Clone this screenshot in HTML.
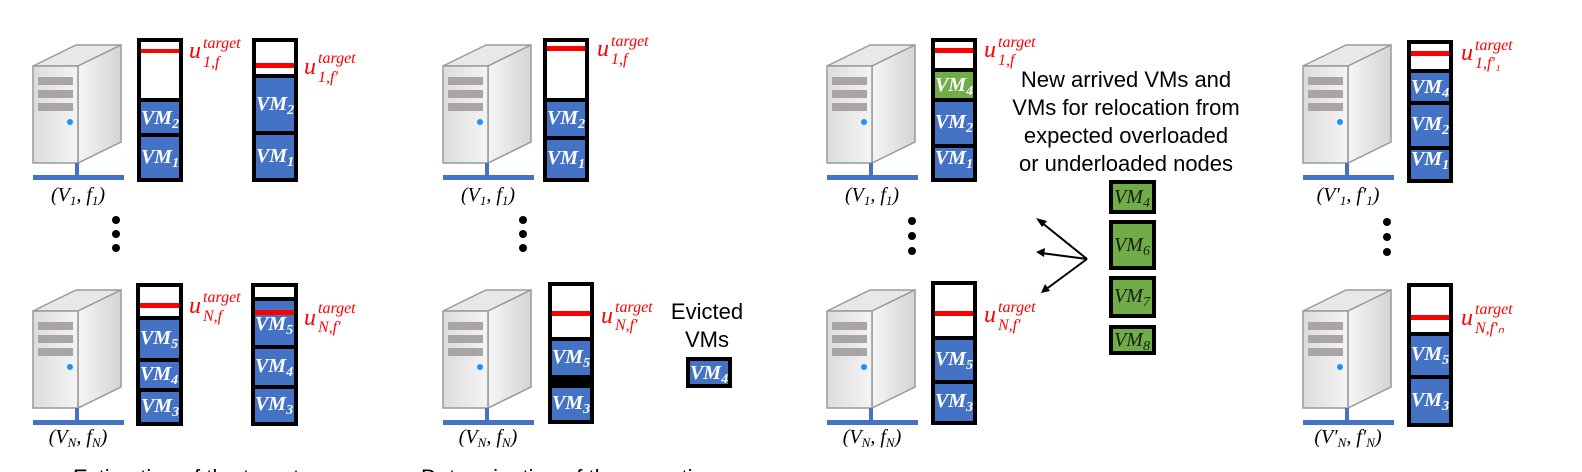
<!DOCTYPE html>
<html><head><meta charset="utf-8"><style>
html,body{margin:0;padding:0;background:#fff;width:1582px;height:472px;overflow:hidden}
svg{display:block}
.vm{font-family:"Liberation Serif",serif;font-style:italic;font-weight:bold;fill:#fff;font-size:20px}
.vmg{font-family:"Liberation Serif",serif;font-style:italic;fill:#1a1a1a;font-size:20px}
.u{font-family:"Liberation Serif",serif;font-style:italic;fill:#f00;font-size:24px}
.lab{font-family:"Liberation Serif",serif;font-style:italic;fill:#000;font-size:20px}
.t{font-family:"Liberation Sans",sans-serif;fill:#000;font-size:22px}
</style></head><body>
<svg width="1582" height="472" viewBox="0 0 1582 472" xmlns="http://www.w3.org/2000/svg">
<defs>
<linearGradient id="gf" x1="0" x2="1"><stop offset="0" stop-color="#dcdcdc"/><stop offset="1" stop-color="#f4f4f4"/></linearGradient>
<linearGradient id="gs" x1="0" x2="1"><stop offset="0" stop-color="#f6f6f6"/><stop offset="1" stop-color="#d4d4d4"/></linearGradient>
<g id="srv">
<polygon points="0,21 45,21 88,0 43,0" fill="#e8e8e8" stroke="#9a9a9a" stroke-width="1.5"/>
<polygon points="45,21 88,0 88,97 45,118" fill="url(#gs)" stroke="#9a9a9a" stroke-width="1.5"/>
<rect x="0" y="21" width="45" height="97" fill="url(#gf)" stroke="#9a9a9a" stroke-width="1.5"/>
<rect x="5" y="32" width="35" height="8" fill="#aaa5a5"/>
<rect x="5" y="45" width="35" height="8" fill="#aaa5a5"/>
<rect x="5" y="58" width="35" height="8" fill="#aaa5a5"/>
<circle cx="37" cy="77" r="3" fill="#1e90ff"/>
<rect x="42" y="118" width="4" height="13" fill="#4472c4"/>
<rect x="0" y="130" width="91" height="5" fill="#4472c4"/>
</g>
</defs>

<use href="#srv" x="33" y="45"/><use href="#srv" x="33" y="290"/>
<use href="#srv" x="443" y="45"/><use href="#srv" x="443" y="290"/>
<use href="#srv" x="827" y="45"/><use href="#srv" x="827" y="290"/>
<use href="#srv" x="1303" y="45"/><use href="#srv" x="1303" y="290"/>

<g class="lab" text-anchor="middle">
<text x="78" y="201">(V<tspan font-size="13" dy="4">1</tspan><tspan dy="-4">, f</tspan><tspan font-size="13" dy="4">1</tspan><tspan dy="-4">)</tspan></text>
<text x="78" y="443">(V<tspan font-size="13" dy="4">N</tspan><tspan dy="-4">, f</tspan><tspan font-size="13" dy="4">N</tspan><tspan dy="-4">)</tspan></text>
<text x="488" y="201">(V<tspan font-size="13" dy="4">1</tspan><tspan dy="-4">, f</tspan><tspan font-size="13" dy="4">1</tspan><tspan dy="-4">)</tspan></text>
<text x="488" y="443">(V<tspan font-size="13" dy="4">N</tspan><tspan dy="-4">, f</tspan><tspan font-size="13" dy="4">N</tspan><tspan dy="-4">)</tspan></text>
<text x="872" y="201">(V<tspan font-size="13" dy="4">1</tspan><tspan dy="-4">, f</tspan><tspan font-size="13" dy="4">1</tspan><tspan dy="-4">)</tspan></text>
<text x="872" y="443">(V<tspan font-size="13" dy="4">N</tspan><tspan dy="-4">, f</tspan><tspan font-size="13" dy="4">N</tspan><tspan dy="-4">)</tspan></text>
<text x="1348" y="201">(V′<tspan font-size="13" dy="4">1</tspan><tspan dy="-4">, f′</tspan><tspan font-size="13" dy="4">1</tspan><tspan dy="-4">)</tspan></text>
<text x="1348" y="443">(V′<tspan font-size="13" dy="4">N</tspan><tspan dy="-4">, f′</tspan><tspan font-size="13" dy="4">N</tspan><tspan dy="-4">)</tspan></text>
</g>

<g fill="#000">
<circle cx="116" cy="220" r="4"/><circle cx="116" cy="234" r="4"/><circle cx="116" cy="248" r="4"/>
<circle cx="523" cy="220" r="4"/><circle cx="523" cy="234" r="4"/><circle cx="523" cy="248" r="4"/>
<circle cx="912" cy="221" r="4"/><circle cx="912" cy="236" r="4"/><circle cx="912" cy="251" r="4"/>
<circle cx="1387" cy="222" r="4"/><circle cx="1387" cy="237" r="4"/><circle cx="1387" cy="252" r="4"/>
</g>

<g fill="#000">
<rect x="137" y="38" width="46" height="144"/>
<rect x="252" y="38" width="46" height="144"/>
<rect x="136" y="283" width="47" height="143"/>
<rect x="251" y="283" width="47" height="143"/>
<rect x="543" y="38" width="46" height="144"/>
<rect x="548" y="282" width="46" height="142"/>
<rect x="686" y="357" width="46" height="31"/>
<rect x="931" y="38" width="46" height="144"/>
<rect x="931" y="281" width="46" height="144"/>
<rect x="1407" y="40" width="46" height="143"/>
<rect x="1407" y="283" width="46" height="144"/>
<rect x="1109" y="180" width="47" height="34"/>
<rect x="1109" y="220" width="47" height="50"/>
<rect x="1109" y="276" width="47" height="42"/>
<rect x="1109" y="325" width="47" height="30"/>
</g>
<g fill="#fff">
<rect x="141" y="42" width="38" height="56"/>
<rect x="256" y="42" width="38" height="32"/>
<rect x="140" y="287" width="39" height="29"/>
<rect x="255" y="287" width="39" height="10"/>
<rect x="547" y="42" width="38" height="56"/>
<rect x="552" y="286" width="38" height="51"/>
<rect x="935" y="42" width="38" height="26"/>
<rect x="935" y="285" width="38" height="51"/>
<rect x="1411" y="44" width="38" height="25"/>
<rect x="1411" y="287" width="38" height="45"/>
</g>
<g fill="#4472c4">
<rect x="141" y="102" width="38" height="31"/><rect x="141" y="137" width="38" height="41"/>
<rect x="256" y="78" width="38" height="53"/><rect x="256" y="135" width="38" height="43"/>
<rect x="140" y="320" width="39" height="38"/><rect x="140" y="362" width="39" height="26"/><rect x="141" y="392" width="38" height="30"/>
<rect x="255" y="301" width="39" height="44"/><rect x="255" y="349" width="39" height="36"/><rect x="255" y="389" width="39" height="33"/>
<rect x="547" y="102" width="38" height="34"/><rect x="547" y="140" width="38" height="38"/>
<rect x="552" y="341" width="38" height="34"/><rect x="552" y="388" width="38" height="32"/>
<rect x="690" y="361" width="38" height="23"/>
<rect x="935" y="102" width="38" height="42"/><rect x="935" y="148" width="38" height="30"/>
<rect x="935" y="340" width="38" height="40"/><rect x="935" y="384" width="38" height="37"/>
<rect x="1411" y="73" width="38" height="28"/><rect x="1411" y="105" width="38" height="41"/><rect x="1411" y="150" width="38" height="29"/>
<rect x="1411" y="336" width="38" height="39"/><rect x="1411" y="379" width="38" height="44"/>
</g>
<g fill="#70ad47">
<rect x="935" y="72" width="38" height="26"/>
<rect x="1113" y="184" width="39" height="26"/>
<rect x="1113" y="224" width="39" height="42"/>
<rect x="1113" y="280" width="39" height="34"/>
<rect x="1113" y="329" width="39" height="22"/>
</g>
<g fill="#f00">
<rect x="141" y="49" width="38" height="4"/>
<rect x="256" y="63" width="38" height="5"/>
<rect x="140" y="303" width="39" height="5"/>
<rect x="255" y="310" width="39" height="5"/>
<rect x="547" y="46" width="38" height="5"/>
<rect x="552" y="311" width="38" height="5"/>
<rect x="935" y="48" width="38" height="5"/>
<rect x="935" y="311" width="38" height="5"/>
<rect x="1411" y="51" width="38" height="5"/>
<rect x="1411" y="315" width="38" height="5"/>
</g>

<g class="vm" text-anchor="middle">
<text x="160" y="124">VM<tspan font-size="14" dy="4">2</tspan></text>
<text x="160" y="163">VM<tspan font-size="14" dy="4">1</tspan></text>
<text x="275" y="110">VM<tspan font-size="14" dy="4">2</tspan></text>
<text x="275" y="162">VM<tspan font-size="14" dy="4">1</tspan></text>
<text x="159" y="344">VM<tspan font-size="14" dy="4">5</tspan></text>
<text x="159" y="380">VM<tspan font-size="14" dy="4">4</tspan></text>
<text x="160" y="412">VM<tspan font-size="14" dy="4">3</tspan></text>
<text x="274" y="330">VM<tspan font-size="14" dy="4">5</tspan></text>
<text x="274" y="372">VM<tspan font-size="14" dy="4">4</tspan></text>
<text x="274" y="410">VM<tspan font-size="14" dy="4">3</tspan></text>
<text x="566" y="124">VM<tspan font-size="14" dy="4">2</tspan></text>
<text x="566" y="164">VM<tspan font-size="14" dy="4">1</tspan></text>
<text x="571" y="363">VM<tspan font-size="14" dy="4">5</tspan></text>
<text x="571" y="409">VM<tspan font-size="14" dy="4">3</tspan></text>
<text x="709" y="379">VM<tspan font-size="14" dy="4">4</tspan></text>
<text x="954" y="91">VM<tspan font-size="14" dy="4">4</tspan></text>
<text x="954" y="128">VM<tspan font-size="14" dy="4">2</tspan></text>
<text x="954" y="164">VM<tspan font-size="14" dy="4">1</tspan></text>
<text x="954" y="365">VM<tspan font-size="14" dy="4">5</tspan></text>
<text x="954" y="407">VM<tspan font-size="14" dy="4">3</tspan></text>
<text x="1430" y="93">VM<tspan font-size="14" dy="4">4</tspan></text>
<text x="1430" y="130">VM<tspan font-size="14" dy="4">2</tspan></text>
<text x="1430" y="165">VM<tspan font-size="14" dy="4">1</tspan></text>
<text x="1430" y="360">VM<tspan font-size="14" dy="4">5</tspan></text>
<text x="1430" y="406">VM<tspan font-size="14" dy="4">3</tspan></text>
</g>
<g class="vmg" text-anchor="middle">
<text x="1132" y="203">VM<tspan font-size="14" dy="4">4</tspan></text>
<text x="1132" y="251">VM<tspan font-size="14" dy="4">6</tspan></text>
<text x="1132" y="302">VM<tspan font-size="14" dy="4">7</tspan></text>
<text x="1132" y="346">VM<tspan font-size="14" dy="4">8</tspan></text>
</g>

<g class="u">
<text x="189" y="58">u<tspan font-size="16" x="203" y="48">target</tspan><tspan font-size="16" x="203" y="67">1,f</tspan></text>
<text x="304" y="74">u<tspan font-size="16" x="318" y="63">target</tspan><tspan font-size="16" x="318" y="82">1,f′</tspan></text>
<text x="189" y="313">u<tspan font-size="16" x="203" y="302">target</tspan><tspan font-size="16" x="203" y="321">N,f</tspan></text>
<text x="304" y="325">u<tspan font-size="16" x="318" y="313">target</tspan><tspan font-size="16" x="318" y="332">N,f′</tspan></text>
<text x="597" y="56">u<tspan font-size="16" x="611" y="46">target</tspan><tspan font-size="16" x="611" y="64">1,f</tspan></text>
<text x="601" y="323">u<tspan font-size="16" x="615" y="312">target</tspan><tspan font-size="16" x="615" y="330">N,f′</tspan></text>
<text x="984" y="57">u<tspan font-size="16" x="998" y="47">target</tspan><tspan font-size="16" x="998" y="65">1,f</tspan></text>
<text x="984" y="322">u<tspan font-size="16" x="998" y="312">target</tspan><tspan font-size="16" x="998" y="330">N,f′</tspan></text>
<text x="1461" y="60">u<tspan font-size="16" x="1475" y="50">target</tspan><tspan font-size="16" x="1475" y="68">1,f′₁</tspan></text>
<text x="1461" y="325">u<tspan font-size="16" x="1475" y="314">target</tspan><tspan font-size="16" x="1475" y="333">N,f′ₙ</tspan></text>
</g>

<g class="t" text-anchor="middle">
<text x="707" y="319">Evicted</text>
<text x="707" y="347">VMs</text>
<text x="1126" y="87">New arrived VMs and</text>
<text x="1126" y="115">VMs for relocation from</text>
<text x="1126" y="143">expected overloaded</text>
<text x="1126" y="171">or underloaded nodes</text>
</g>
<g class="t">
<text x="73" y="485">Estimation of the target</text>
<text x="421" y="485">Determination of the operating</text>
</g>

<g stroke="#000" stroke-width="2" fill="none">
<line x1="1087" y1="259" x2="1041" y2="222"/>
<line x1="1087" y1="259" x2="1041" y2="253"/>
<line x1="1087" y1="259" x2="1045" y2="290"/>
</g>
<g fill="#000">
<polygon points="1036,218 1047,221 1042,227"/>
<polygon points="1036,252 1045,248 1044,257"/>
<polygon points="1041,293 1045,284 1050,291"/>
</g>
</svg>
</body></html>
